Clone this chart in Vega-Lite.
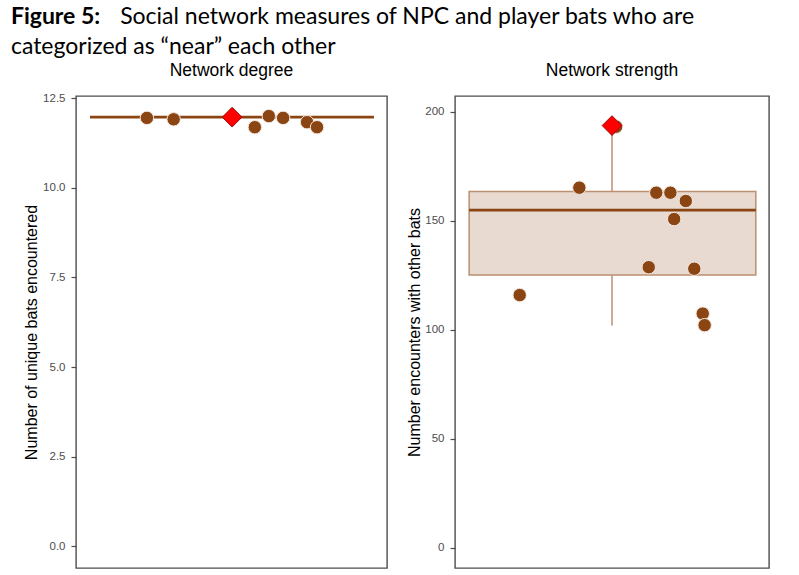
{
  "$schema": "https://vega.github.io/schema/vega-lite/v6.json",
  "padding": {"left": 10, "top": 5, "right": 5, "bottom": 5},
  "background": "white",
  "bounds": "flush",
  "title": {
    "text": "Figure 5:",
    "subtitle": ["\u200b\u2003\u2003\u2003\u2003\u2003\u2003\u2009\u2009Social network measures of NPC and player bats who are", "categorized as \u201cnear\u201d each other"],
    "anchor": "start",
    "frame": "bounds",
    "dx": -12,
    "font": "Lato",
    "fontSize": 23,
    "fontWeight": "bold",
    "color": "black",
    "subtitleFont": "Lato",
    "subtitleFontSize": 23,
    "subtitleFontWeight": "normal",
    "subtitleColor": "black",
    "subtitleLineHeight": 30,
    "subtitlePadding": -23,
    "offset": 2
  },
  "datasets": {
    "deg_points": [
      {"x": 0.228, "value": 11.95, "type": "NPC"},
      {"x": 0.314, "value": 11.91, "type": "NPC"},
      {"x": 0.575, "value": 11.69, "type": "NPC"},
      {"x": 0.62, "value": 12.0, "type": "NPC"},
      {"x": 0.666, "value": 11.95, "type": "NPC"},
      {"x": 0.743, "value": 11.83, "type": "NPC"},
      {"x": 0.775, "value": 11.69, "type": "NPC"},
      {"x": 0.502, "value": 11.97, "type": "player"}
    ],
    "deg_box": [
      {"x1": 0.045, "x2": 0.958, "xc": 0.5, "lower": 11.97, "q1": 11.97, "median": 11.97, "q3": 11.97, "upper": 11.97}
    ],
    "str_points": [
      {"x": 0.206, "value": 115.9, "type": "NPC"},
      {"x": 0.396, "value": 165.2, "type": "NPC"},
      {"x": 0.641, "value": 162.9, "type": "NPC"},
      {"x": 0.686, "value": 162.9, "type": "NPC"},
      {"x": 0.735, "value": 159.1, "type": "NPC"},
      {"x": 0.698, "value": 150.8, "type": "NPC"},
      {"x": 0.617, "value": 128.7, "type": "NPC"},
      {"x": 0.762, "value": 128.0, "type": "NPC"},
      {"x": 0.789, "value": 107.4, "type": "NPC"},
      {"x": 0.795, "value": 102.1, "type": "NPC"},
      {"x": 0.513, "value": 193.2, "type": "NPC"},
      {"x": 0.5, "value": 193.7, "type": "player"}
    ],
    "str_box": [
      {"x1": 0.045, "x2": 0.958, "xc": 0.5, "lower": 101.9, "q1": 125.1, "median": 154.9, "q3": 163.4, "upper": 193.7}
    ]
  },
  "spacing": 68,
  "hconcat": [
    {
      "width": 311,
      "height": 472,
      "title": {"text": "Network degree", "offset": 13},
      "layer": [
        {
          "data": {"name": "deg_box"},
          "mark": {"type": "rule", "color": "#BC8F70", "strokeWidth": 1.5},
          "encoding": {
            "x": {"field": "xc", "type": "quantitative", "scale": {"domain": [0, 1]}, "axis": null},
            "y": {"field": "lower", "type": "quantitative", "scale": {"domain": [-0.6, 12.56], "nice": false, "zero": false},
                  "axis": {"title": "Number of unique bats encountered", "values": [0, 2.5, 5, 7.5, 10, 12.5], "format": ".1f"}},
            "y2": {"field": "upper"}
          }
        },
        {
          "data": {"name": "deg_box"},
          "mark": {"type": "rect", "fill": "#E8DAD1", "stroke": "#BC8F70", "strokeWidth": 1.5},
          "encoding": {
            "x": {"field": "x1", "type": "quantitative"},
            "x2": {"field": "x2"},
            "y": {"field": "q1", "type": "quantitative"},
            "y2": {"field": "q3"}
          }
        },
        {
          "data": {"name": "deg_box"},
          "mark": {"type": "rule", "color": "#8B4513", "strokeWidth": 2.6},
          "encoding": {
            "x": {"field": "x1", "type": "quantitative"},
            "x2": {"field": "x2"},
            "y": {"field": "median", "type": "quantitative"}
          }
        },
        {
          "data": {"name": "deg_points"},
          "mark": {"type": "point", "filled": true, "strokeWidth": 1, "opacity": 1},
          "encoding": {
            "x": {"field": "x", "type": "quantitative"},
            "y": {"field": "value", "type": "quantitative"},
            "shape": {"field": "type", "type": "nominal", "scale": {"domain": ["NPC", "player"], "range": ["circle", "diamond"]}, "legend": null},
            "color": {"field": "type", "type": "nominal", "scale": {"domain": ["NPC", "player"], "range": ["#8B4513", "#FF0000"]}, "legend": null},
            "size": {"field": "type", "type": "nominal", "scale": {"domain": ["NPC", "player"], "range": [180, 390]}, "legend": null},
            "stroke": {"field": "type", "type": "nominal", "scale": {"domain": ["NPC", "player"], "range": ["#F3E9E2", "#9B1010"]}, "legend": null},
            "order": {"field": "type", "sort": "ascending"}
          }
        }
      ]
    },
    {
      "width": 314,
      "height": 472,
      "title": {"text": "Network strength", "offset": 17},
      "layer": [
        {
          "data": {"name": "str_box"},
          "mark": {"type": "rule", "color": "#BC8F70", "strokeWidth": 1.5},
          "encoding": {
            "x": {"field": "xc", "type": "quantitative", "scale": {"domain": [0, 1]}, "axis": null},
            "y": {"field": "lower", "type": "quantitative", "scale": {"domain": [-9.4, 207.3], "nice": false, "zero": false},
                  "axis": {"title": "Number encounters with other bats", "values": [0, 50, 100, 150, 200], "format": "d", "titlePadding": 2}},
            "y2": {"field": "upper"}
          }
        },
        {
          "data": {"name": "str_box"},
          "mark": {"type": "rect", "fill": "#E8DAD1", "stroke": "#BC8F70", "strokeWidth": 1.5},
          "encoding": {
            "x": {"field": "x1", "type": "quantitative"},
            "x2": {"field": "x2"},
            "y": {"field": "q1", "type": "quantitative"},
            "y2": {"field": "q3"}
          }
        },
        {
          "data": {"name": "str_box"},
          "mark": {"type": "rule", "color": "#8B4513", "strokeWidth": 2.6},
          "encoding": {
            "x": {"field": "x1", "type": "quantitative"},
            "x2": {"field": "x2"},
            "y": {"field": "median", "type": "quantitative"}
          }
        },
        {
          "data": {"name": "str_points"},
          "mark": {"type": "point", "filled": true, "strokeWidth": 1, "opacity": 1},
          "encoding": {
            "x": {"field": "x", "type": "quantitative"},
            "y": {"field": "value", "type": "quantitative"},
            "shape": {"field": "type", "type": "nominal", "scale": {"domain": ["NPC", "player"], "range": ["circle", "diamond"]}, "legend": null},
            "color": {"field": "type", "type": "nominal", "scale": {"domain": ["NPC", "player"], "range": ["#8B4513", "#FF0000"]}, "legend": null},
            "size": {"field": "type", "type": "nominal", "scale": {"domain": ["NPC", "player"], "range": [180, 390]}, "legend": null},
            "stroke": {"field": "type", "type": "nominal", "scale": {"domain": ["NPC", "player"], "range": ["#F3E9E2", "#9B1010"]}, "legend": null},
            "order": {"field": "type", "sort": "ascending"}
          }
        }
      ]
    }
  ],
  "resolve": {"scale": {"shape": "independent", "color": "independent", "size": "independent", "stroke": "independent"}},
  "config": {
    "view": {"stroke": "#4D4D4D", "strokeWidth": 1.4},
    "title": {"font": "Liberation Sans", "fontSize": 17.5, "fontWeight": "normal", "color": "black", "anchor": "middle"},
    "axis": {
      "domain": false,
      "grid": false,
      "ticks": true,
      "tickSize": 5,
      "tickColor": "#4D4D4D",
      "tickWidth": 1.2,
      "labelFont": "Liberation Sans",
      "labelFontSize": 11.5,
      "labelColor": "#4D4D4D",
      "labelPadding": 6,
      "titleFont": "Liberation Sans",
      "titleFontSize": 16,
      "titleFontWeight": "normal",
      "titleColor": "black",
      "titlePadding": 3
    }
  }
}
